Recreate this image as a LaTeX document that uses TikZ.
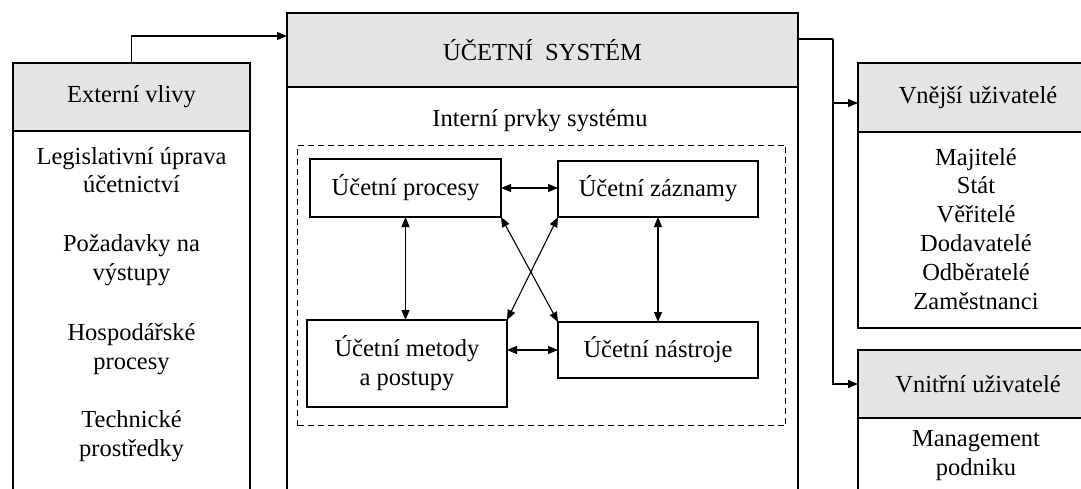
\documentclass[tikz,border=0pt]{standalone}
\usepackage{fontspec}
\setmainfont{Liberation Serif}
\usetikzlibrary{arrows.meta}
\definecolor{hdrgray}{RGB}{228,228,228}
\tikzset{
 txt/.style={font=\fontsize{24.5}{28.8}\selectfont, inner sep=0pt, outer sep=0pt, align=center},
 hdr/.style={txt, draw, line width=1.2pt, fill=hdrgray, anchor=north west},
 body/.style={draw, line width=1.2pt, anchor=north west, inner sep=0pt, outer sep=0pt, fill=white},
 inbox/.style={txt, draw, line width=1.2pt},
 lbl/.style={txt, anchor=base},
 arr/.style={line width=1.1pt, -{Triangle[length=10pt,width=8pt]}},
 biarr/.style={line width=1.1pt, {Triangle[length=10pt,width=8pt]}-{Triangle[length=10pt,width=8pt]}},
 dashbox/.style={draw, line width=1pt, dash pattern=on 6pt off 4pt},
}
\begin{document}
\begin{tikzpicture}[x=1pt,y=-1pt]
\useasboundingbox (0,0) rectangle (1081,489);
\clip (0,0) rectangle (1081,489);
\fill[white] (0,0) rectangle (1081,489);

% left box
\node[body, minimum width=237pt, minimum height=420pt] (extB) at (13,131) {};
\node[hdr, minimum width=237pt, minimum height=68pt] (extH) at (13,63) {Externí vlivy};
\node[lbl] (e1) at (131.5,193) {Legislativní úprava\\účetnictví};
\node[lbl] (e2) at (131.5,280) {Požadavky na\\výstupy};
\node[lbl] (e3) at (131.5,369) {Hospodářské\\procesy};
\node[lbl] (e4) at (131.5,456) {Technické\\prostředky};

% centre box
\node[body, minimum width=511pt, minimum height=420pt] (sysB) at (287,87) {};
\node[hdr, minimum width=511pt, minimum height=74pt] (sysH) at (287,13) {ÚČETNÍ\ \ SYSTÉM};
\draw[line width=2pt] (sysH.south west) -- (sysH.south east);
\node[lbl] (intl) at (540,127) {Interní prvky systému};
\node[dashbox, minimum width=488pt, minimum height=280pt, anchor=north west] (dash) at (297,145) {};

\node[inbox, minimum width=191pt, minimum height=58pt] (proc) at (405.5,188) {Účetní procesy};
\node[inbox, minimum width=200pt, minimum height=56pt] (zazn) at (658,189) {Účetní záznamy};
\node[inbox, minimum width=200pt, minimum height=87pt] (meto) at (407,363.5) {Účetní metody\\a postupy};
\node[inbox, minimum width=200pt, minimum height=56pt] (nast) at (658,350) {Účetní nástroje};

\draw[biarr] (proc.east) -- (proc.east -| zazn.west);
\draw[biarr] (nast.west -| meto.east) -- (nast.west);
\draw[biarr] (proc.south) -- (proc.south |- meto.north);
\draw[biarr] (zazn.south) -- (zazn.south |- nast.north);
\draw[biarr] (proc.south east) -- (nast.north west);
\draw[biarr] (zazn.south west) -- (meto.north east);

% right boxes
\node[body, minimum width=240pt, minimum height=196pt] (vnejB) at (858,132) {};
\node[hdr, minimum width=240pt, minimum height=69pt] (vnejH) at (858,63) {Vnější uživatelé};
\node[lbl] (vlist) at (976,309) {Majitelé\\Stát\\Věřitelé\\Dodavatelé\\Odběratelé\\Zaměstnanci};

\node[body, minimum width=240pt, minimum height=120pt] (vnitB) at (858,418) {};
\node[hdr, minimum width=240pt, minimum height=68pt] (vnitH) at (858,350) {Vnitřní uživatelé};
\node[lbl] (mlist) at (976,475) {Management\\podniku};

% outer connectors
\coordinate (bend) at (833,39);
\draw[arr] (extH.north) |- ([yshift=14pt]sysH.west);
\draw[line width=1.1pt] ([yshift=11pt]sysH.east) -- (bend);
\draw[arr] (bend) |- (vnitH.west);
\draw[arr] ([yshift=-5.5pt]bend |- vnejH.west) -- ([yshift=-5.5pt]vnejH.west);
\end{tikzpicture}
\end{document}
